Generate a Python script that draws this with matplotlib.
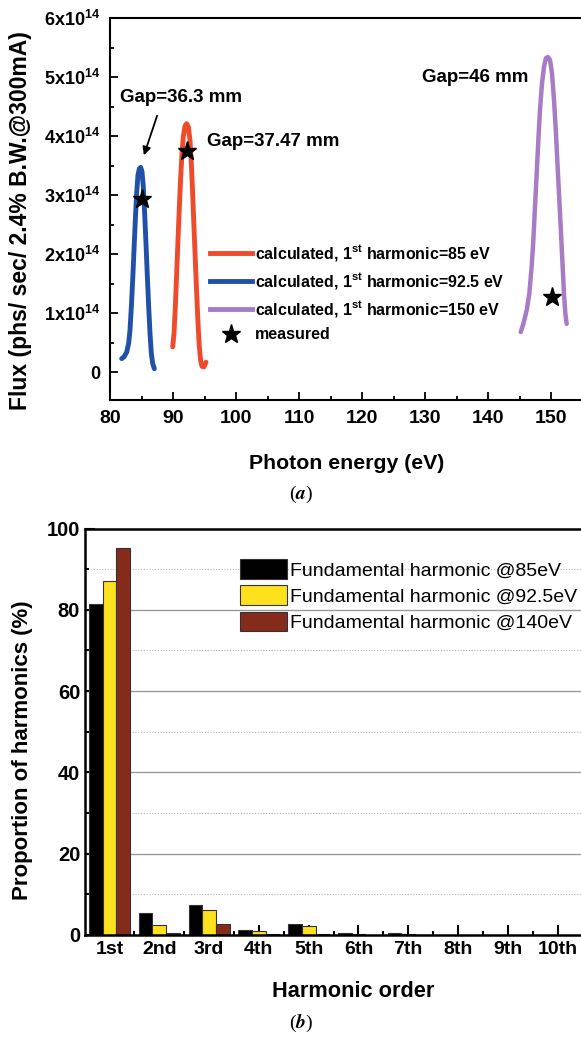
import numpy as np
import matplotlib
matplotlib.use("Agg")
import matplotlib.pyplot as plt
from matplotlib.lines import Line2D
from matplotlib.ticker import MultipleLocator, FixedLocator

plt.rcParams['font.family'] = ['Liberation Sans', 'DejaVu Sans']
plt.rcParams['font.weight'] = 'bold'
plt.rcParams['mathtext.fontset'] = 'custom'
plt.rcParams['mathtext.rm'] = 'Liberation Sans:bold'
plt.rcParams['mathtext.it'] = 'Liberation Sans:bold'
plt.rcParams['mathtext.bf'] = 'Liberation Sans:bold'
plt.rcParams['mathtext.default'] = 'rm'

# ---- panel (a): flux curves, flux in units of 1e14 ----
# blue curve (peak near 85 eV)
e_blue = [81.85, 82.22, 82.65, 82.96, 83.17, 83.39, 83.6, 83.81, 84.02, 84.23, 84.44, 84.66,
          84.87, 85.08, 85.29, 85.5, 85.71, 85.93, 86.14, 86.35, 86.56, 86.77, 87.04]
f_blue = [0.23, 0.26, 0.34, 0.49, 0.71, 1.11, 1.56, 2.07, 2.58, 3.03, 3.34, 3.45,
          3.47, 3.40, 3.14, 2.69, 2.18, 1.62, 1.11, 0.66, 0.32, 0.15, 0.06]
# red curve (peak near 92 eV)
e_red = [89.95, 90.16, 90.37, 90.58, 90.79, 91.01, 91.22, 91.43, 91.64, 91.9, 92.17, 92.43,
         92.7, 92.91, 93.12, 93.33, 93.54, 93.76, 93.97, 94.18, 94.39, 94.6, 94.92, 95.24]
f_red = [0.43, 0.66, 1.11, 1.67, 2.24, 2.80, 3.31, 3.71, 3.99, 4.17, 4.21, 4.16,
         3.93, 3.54, 3.03, 2.46, 1.90, 1.33, 0.83, 0.43, 0.20, 0.10, 0.09, 0.17]
# purple curve (peak near 149.5 eV)
e_purple = [145.19, 145.61, 146.14, 146.56, 146.93, 147.2, 147.46, 147.73, 147.99, 148.25,
            148.57, 148.89, 149.2, 149.52, 149.84, 150.16, 150.48, 150.79, 151.05, 151.32,
            151.59, 151.85, 152.06, 152.28, 152.49]
f_purple = [0.68, 0.82, 1.05, 1.33, 1.79, 2.24, 2.80, 3.37, 3.93, 4.44,
            4.89, 5.18, 5.32, 5.34, 5.29, 5.06, 4.61, 4.05, 3.48, 2.92,
            2.35, 1.79, 1.33, 0.99, 0.82]

meas_e = [85.0, 92.2, 150.1]
meas_f = [2.93, 3.75, 1.28]

legend_a = [r'calculated, 1$^{st}$ harmonic=85 eV',
            r'calculated, 1$^{st}$ harmonic=92.5 eV',
            r'calculated, 1$^{st}$ harmonic=150 eV',
            'measured']

# ---- panel (b): harmonic proportions (%) ----
orders = ['1st', '2nd', '3rd', '4th', '5th', '6th', '7th', '8th', '9th', '10th']
prop_85 = [81.5, 5.3, 7.3, 1.3, 2.6, 0.6, 0.6, 0.0, 0.0, 0.0]
prop_925 = [87.0, 2.5, 6.2, 1.1, 2.1, 0.3, 0.2, 0.0, 0.0, 0.0]
prop_140 = [95.3, 0.5, 2.8, 0.3, 0.3, 0.1, 0.1, 0.0, 0.0, 0.0]

RED, BLUE, PURPLE = '#EF4A2C', '#2050A8', '#A77BC6'

fig = plt.figure(figsize=(5.81, 10.38), dpi=100)

# ---------------- panel (a) ----------------
ax1 = fig.add_axes([110/581, 1-400/1038, 471/581, 382/1038])
ax1.plot(e_blue, f_blue, color=BLUE, lw=3.5, solid_capstyle='round', zorder=2)
ax1.plot(e_red, f_red, color=RED, lw=3.5, solid_capstyle='round', zorder=2)
ax1.plot(e_purple, f_purple, color=PURPLE, lw=3.2, solid_capstyle='round', zorder=2)
ax1.plot(meas_e, meas_f, ls='none', marker='*', ms=14, color='black', zorder=3)

ax1.set_xlim(80, 80 + 471/6.3)
ax1.set_ylim(-0.47, 6)
ax1.xaxis.set_major_locator(MultipleLocator(10))
ax1.xaxis.set_minor_locator(MultipleLocator(5))
ax1.set_yticks(range(0, 7))
ax1.yaxis.set_minor_locator(MultipleLocator(0.5))
ax1.set_yticklabels(['0'] + [f'{n}x10$^{{14}}$' for n in range(1, 7)])
ax1.tick_params(which='both', direction='in', width=1.3)
ax1.tick_params(which='major', length=6)
ax1.tick_params(which='minor', length=3)
ax1.tick_params(axis='x', labelsize=14, pad=7.5)
ax1.tick_params(axis='y', labelsize=13, pad=7)
ax1.spines['right'].set_visible(False)
for s in ['left', 'bottom', 'top']:
    ax1.spines[s].set_linewidth(1.5)
ax1.set_xlabel('Photon energy (eV)', fontsize=15.3, fontweight='bold', va='center')
ax1.set_ylabel('Flux (phs/ sec/ 2.4% B.W.@300mA)', fontsize=16.5, fontweight='bold')
ax1.xaxis.set_label_coords(0.503, -0.165)
ax1.yaxis.set_label_coords(-0.166, 0.47)

handles_a = [Line2D([], [], color=RED, lw=3.5),
             Line2D([], [], color=BLUE, lw=3.5),
             Line2D([], [], color=PURPLE, lw=3.5),
             Line2D([], [], ls='none', marker='*', ms=14, color='black')]
ax1.legend(handles_a, legend_a, loc='upper left', bbox_to_anchor=(0.213, 0.41),
           frameon=False, borderaxespad=0, borderpad=0, handlelength=2.6,
           handletextpad=0.2, labelspacing=0.5,
           prop={'size': 11.5, 'weight': 'bold'})

ax1.annotate('', xy=(85.24, 3.63), xytext=(87.62, 4.39),
             arrowprops=dict(arrowstyle='-|>', color='black', lw=1.3, mutation_scale=12))
ax1.text(91.27, 4.65, 'Gap=36.3 mm', ha='center', va='center', fontsize=13.5, fontweight='bold')
ax1.text(95.4, 3.90, 'Gap=37.47 mm', ha='left', va='center', fontsize=13.5, fontweight='bold')
ax1.text(129.6, 4.99, 'Gap=46 mm', ha='left', va='center', fontsize=13.5, fontweight='bold')

fig.text(301/581, 1-494/1038, r'($\mathit{a}$)', ha='center', va='center', fontsize=14,
         family='Liberation Serif', fontweight='normal', math_fontfamily='stix')

# ---------------- panel (b) ----------------
ax2 = fig.add_axes([85/581, 1-935/1038, 496/581, 406.5/1038])
x = np.arange(1, len(orders) + 1)
w = 0.275
ax2.bar(x - w, prop_85, w, color='black', edgecolor='#333333', lw=0.8,
        label='Fundamental harmonic @85eV', zorder=2)
ax2.bar(x, prop_925, w, color='#FDE11D', edgecolor='#333333', lw=0.8,
        label='Fundamental harmonic @92.5eV', zorder=2)
ax2.bar(x + w, prop_140, w, color='#842B1C', edgecolor='#333333', lw=0.8,
        label='Fundamental harmonic @140eV', zorder=2)

ax2.set_xlim(1 - 24.5/49.8, 1 + 471.5/49.8)
ax2.set_ylim(0, 100)
ax2.set_xticks(x)
ax2.set_xticklabels(orders)
ax2.xaxis.set_minor_locator(FixedLocator(x[:-1] + 0.5))
ax2.yaxis.set_major_locator(MultipleLocator(20))
ax2.yaxis.set_minor_locator(MultipleLocator(10))
for yv in [20, 40, 60, 80]:
    ax2.axhline(yv, color='#9a9a9a', lw=1.0, zorder=1)
for yv in [10, 30, 50, 70, 90]:
    ax2.axhline(yv, color='#b5b5b5', lw=0.8, ls=(0, (1, 1.5)), zorder=1)
ax2.tick_params(which='both', direction='in', width=1.5)
ax2.tick_params(which='major', length=7)
ax2.tick_params(which='minor', length=3)
ax2.tick_params(axis='x', labelsize=14, pad=4)
ax2.tick_params(axis='y', labelsize=14.5, pad=3.5)
ax2.spines['right'].set_visible(False)
for s in ['left', 'bottom', 'top']:
    ax2.spines[s].set_linewidth(1.8)
ax2.set_xlabel('Harmonic order', fontsize=15.7, fontweight='bold', va='center')
ax2.set_ylabel('Proportion of harmonics (%)', fontsize=16, fontweight='bold')
ax2.xaxis.set_label_coords(0.540, -0.140)
ax2.yaxis.set_label_coords(-0.105, 0.455)
ax2.legend(loc='upper left', bbox_to_anchor=(0.3125, 0.925), frameon=False,
           borderaxespad=0, borderpad=0, handlelength=2.42, handleheight=1.19,
           handletextpad=0.15, labelspacing=0.3,
           prop={'size': 14, 'weight': 'normal'})

fig.text(301/581, 1-1023/1038, r'($\mathit{b}$)', ha='center', va='center', fontsize=14,
         family='Liberation Serif', fontweight='normal', math_fontfamily='stix')

fig.savefig('out.png', dpi=100)
